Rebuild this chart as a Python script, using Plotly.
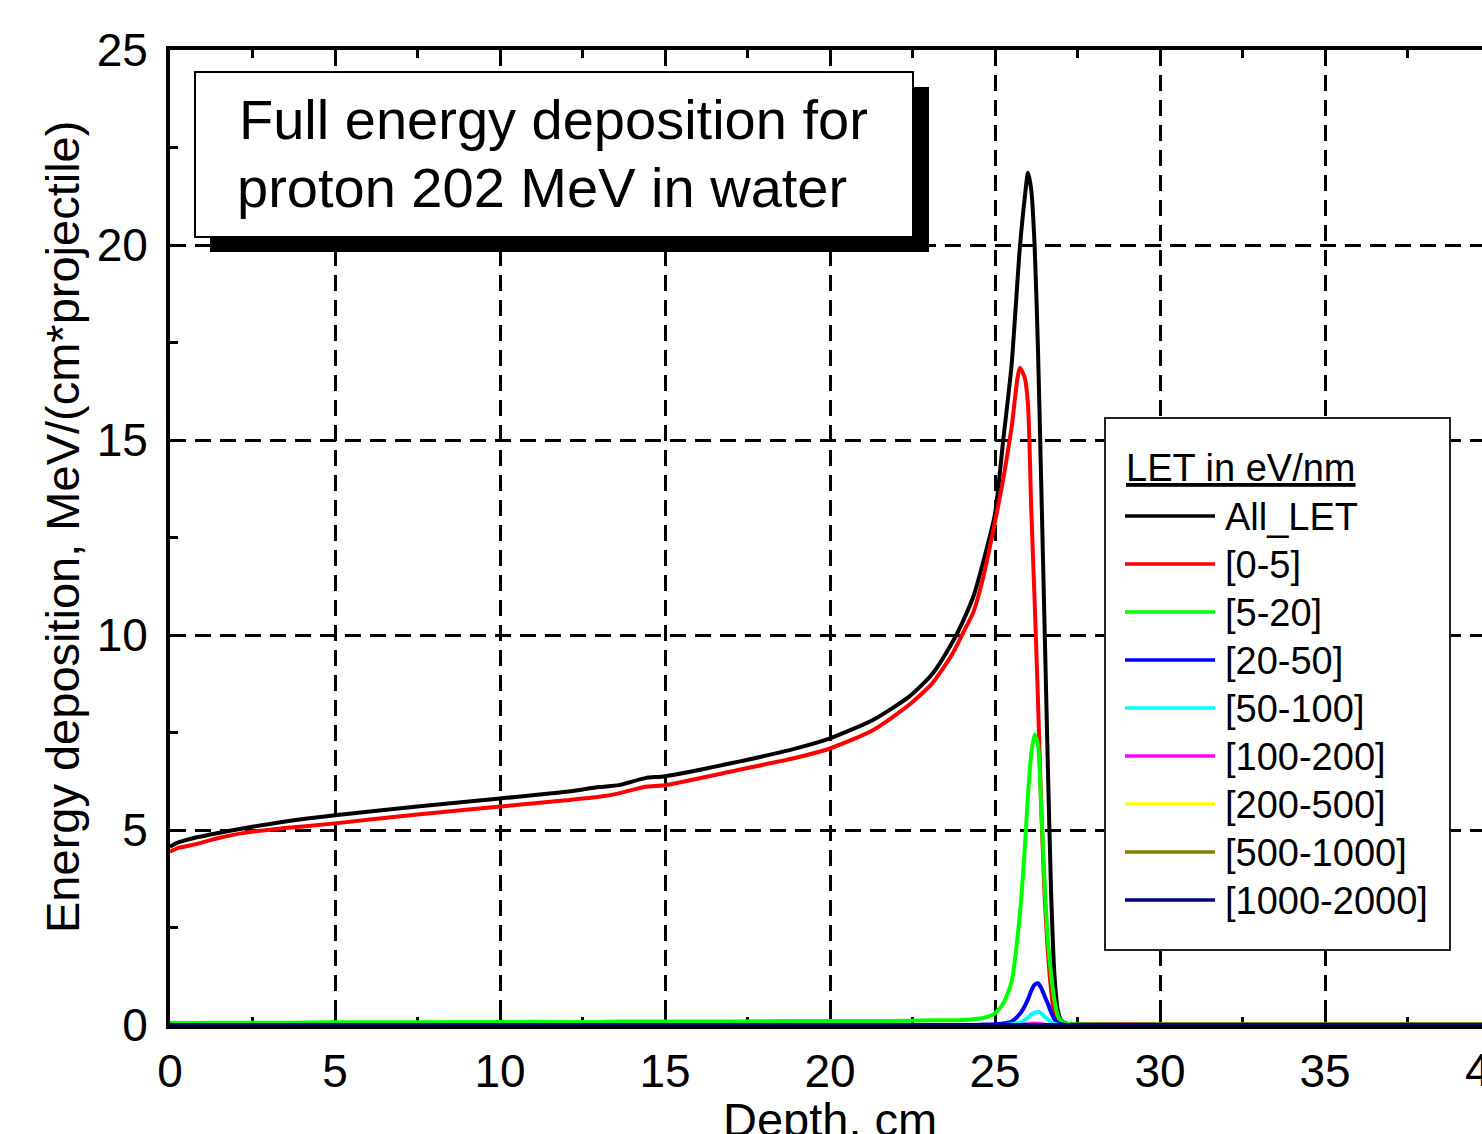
import plotly.graph_objects as go

# Depth grid (cm), denser around the Bragg peak
depth = [0, 0.25, 0.7, 1.5, 2.2, 3.5, 5, 7.5, 10, 12,
         13, 13.6, 14.4, 15, 17, 19, 20, 21.3, 22.4, 23.1,
         23.7, 24.0, 24.35, 24.65, 25.0, 25.25, 25.5, 25.75, 25.9, 26.0,
         26.1, 26.2, 26.3, 26.4, 26.5, 26.6, 26.7, 26.8, 26.9, 27.0,
         27.2, 28, 30, 35, 40]

# Energy deposition, MeV/(cm*projectile), per LET bin
all_let = [4.57, 4.68, 4.79, 4.93, 5.04, 5.22, 5.38, 5.60, 5.81, 5.98,
           6.10, 6.15, 6.33, 6.38, 6.71, 7.10, 7.35, 7.82, 8.42, 9.00,
           9.80, 10.30, 11.00, 11.90, 13.10, 15.00, 16.90, 19.90, 21.20, 21.85,
           21.40, 20.00, 17.40, 13.90, 10.30, 6.70, 3.40, 1.30, 0.40, 0.12,
           0.03, 0.01, 0.01, 0.01, 0.01]
let_0_5 = [4.44, 4.54, 4.62, 4.80, 4.92, 5.05, 5.17, 5.40, 5.60, 5.76,
           5.85, 5.94, 6.11, 6.15, 6.50, 6.86, 7.09, 7.56, 8.21, 8.76,
           9.50, 10.00, 10.60, 11.50, 12.90, 14.00, 15.30, 16.85, 16.60, 15.90,
           13.20, 10.90, 8.40, 5.60, 3.40, 1.90, 0.90, 0.25, 0.08, 0.03,
           0.02, 0.02, 0.02, 0.02, 0.02]
let_5_20 = [0.05, 0.05, 0.05, 0.06, 0.06, 0.06, 0.07, 0.07, 0.08, 0.08,
            0.08, 0.09, 0.09, 0.09, 0.09, 0.10, 0.10, 0.10, 0.11, 0.12,
            0.12, 0.13, 0.15, 0.18, 0.30, 0.55, 1.10, 2.80, 4.50, 5.90,
            6.95, 7.45, 7.20, 5.60, 3.70, 2.20, 1.30, 0.65, 0.25, 0.10,
            0.03, 0.01, 0.01, 0.01, 0.01]
let_20_50 = [0, 0, 0, 0, 0, 0, 0, 0, 0, 0,
             0, 0, 0, 0, 0, 0, 0, 0, 0, 0,
             0, 0, 0, 0.01, 0.02, 0.04, 0.09, 0.28, 0.48, 0.66,
             0.88, 1.03, 1.07, 0.95, 0.75, 0.55, 0.33, 0.15, 0.05, 0.02,
             0, 0, 0, 0, 0]
let_50_100 = [0, 0, 0, 0, 0, 0, 0, 0, 0, 0,
              0, 0, 0, 0, 0, 0, 0, 0, 0, 0,
              0, 0, 0, 0, 0, 0, 0.02, 0.06, 0.13, 0.19,
              0.27, 0.32, 0.34, 0.30, 0.22, 0.15, 0.08, 0.03, 0.01, 0,
              0, 0, 0, 0, 0]
let_100_200 = [0, 0, 0, 0, 0, 0, 0, 0, 0, 0,
               0, 0, 0, 0, 0, 0, 0, 0, 0, 0,
               0, 0, 0, 0, 0, 0, 0, 0, 0.01, 0.02,
               0.03, 0.03, 0.03, 0.02, 0.01, 0, 0, 0, 0, 0,
               0, 0, 0, 0, 0]
let_200_500 = [0, 0, 0, 0, 0, 0, 0, 0, 0, 0,
               0, 0, 0, 0, 0, 0, 0, 0, 0, 0,
               0, 0, 0, 0, 0, 0, 0, 0, 0, 0,
               0, 0, 0, 0, 0, 0, 0, 0, 0, 0,
               0, 0, 0, 0, 0]
let_500_1000 = [0, 0, 0, 0, 0, 0, 0, 0, 0, 0,
                0, 0, 0, 0, 0, 0, 0, 0, 0, 0,
                0, 0, 0, 0, 0, 0, 0, 0, 0, 0,
                0, 0, 0, 0, 0, 0, 0, 0, 0, 0,
                0, 0, 0, 0, 0]
let_1000_2000 = [0, 0, 0, 0, 0, 0, 0, 0, 0, 0,
                 0, 0, 0, 0, 0, 0, 0, 0, 0, 0,
                 0, 0, 0, 0, 0, 0, 0, 0, 0, 0,
                 0, 0, 0, 0, 0, 0, 0, 0, 0, 0,
                 0, 0, 0, 0, 0]

series_names = ["All_LET", "[0-5]", "[5-20]", "[20-50]", "[50-100]",
                "[100-200]", "[200-500]", "[500-1000]", "[1000-2000]"]
series_values = [all_let, let_0_5, let_5_20, let_20_50, let_50_100,
                 let_100_200, let_200_500, let_500_1000, let_1000_2000]
series_colors = ["#000000", "#ff0000", "#00ff00", "#0000ff", "#00ffff",
                 "#ff00ff", "#ffff00", "#808000", "#000080"]

x_ticks = [0, 5, 10, 15, 20, 25, 30, 35]
y_ticks = [0, 5, 10, 15, 20, 25]

FONT = "Liberation Sans, Arial, Helvetica, sans-serif"
W, H = 1482, 1134
L, R, T, B = 170, 0, 50, 109
PW, PH = W - L - R, H - T - B
X_MAX = PW / 33.0  # 33 px per cm


def px(xp):
    return (xp - L) / PW


def py(yp):
    return (H - B - yp) / PH


fig = go.Figure()
for name, vals, col in zip(series_names, series_values, series_colors):
    fig.add_trace(go.Scatter(x=depth, y=vals, mode="lines", name=name,
                             line=dict(color=col, width=4, shape="spline", smoothing=0.6),
                             showlegend=False))

grid_dash = "16px,9px"
tick_common = dict(ticks="inside", ticklen=15, tickwidth=3, tickcolor="black")
minor_common = dict(ticks="inside", ticklen=8, tickwidth=3, tickcolor="black",
                    dtick=2.5, tick0=0, showgrid=False)
fig.update_layout(
    width=W, height=H,
    margin=dict(l=L, r=R, t=T, b=B, pad=0),
    paper_bgcolor="white", plot_bgcolor="white",
    font=dict(family=FONT, color="black"),
    xaxis=dict(range=[0, X_MAX], tickvals=x_ticks, ticktext=[str(v) for v in x_ticks],
               minor=minor_common, **tick_common,
               showline=True, linewidth=4, linecolor="black", mirror="ticks",
               showgrid=True, gridcolor="black", gridwidth=2.5, griddash=grid_dash,
               zeroline=False, tickfont=dict(size=46), ticklabelstandoff=3,
               layer="below traces"),
    yaxis=dict(range=[0, 25], tickvals=y_ticks,
               minor=minor_common, **tick_common,
               showline=True, linewidth=4, linecolor="black", mirror=False,
               showgrid=True, gridcolor="black", gridwidth=2.5, griddash=grid_dash,
               zeroline=False, tickfont=dict(size=46), ticklabelstandoff=9),
    yaxis2=dict(range=[0, 25], overlaying="y", side="right", anchor="x",
                tickvals=y_ticks, showticklabels=False,
                minor=minor_common, **tick_common,
                showline=False, showgrid=False, zeroline=False),
)

shapes = []
annotations = []

# Axis titles
annotations.append(dict(xref="paper", yref="paper", x=px(62), y=py(527),
                        text="Energy deposition, MeV/(cm*projectile)", textangle=-90,
                        showarrow=False, xanchor="center", yanchor="middle",
                        font=dict(size=47, family=FONT, color="black")))
annotations.append(dict(xref="paper", yref="paper", x=px(830), y=py(1119),
                        text="Depth, cm", showarrow=False,
                        xanchor="center", yanchor="middle",
                        font=dict(size=47, family=FONT, color="black")))
# last x tick label sits just past the visible edge
annotations.append(dict(xref="paper", yref="paper", x=px(1490), y=py(1070),
                        text="40", showarrow=False, xanchor="center", yanchor="middle",
                        font=dict(size=46, family=FONT, color="black")))

# Title box with drop shadow
shapes.append(dict(type="rect", xref="paper", yref="paper", layer="above",
                   x0=px(210), x1=px(929), y0=py(252), y1=py(87),
                   fillcolor="black", line=dict(width=0)))
shapes.append(dict(type="rect", xref="paper", yref="paper", layer="above",
                   x0=px(195), x1=px(913), y0=py(237), y1=py(72),
                   fillcolor="white", line=dict(color="black", width=2)))
annotations.append(dict(xref="paper", yref="paper", x=px(237), y=py(120),
                        text="Full energy deposition for", showarrow=False,
                        xanchor="left", yanchor="middle",
                        font=dict(size=56, family=FONT, color="black")))
annotations.append(dict(xref="paper", yref="paper", x=px(235), y=py(187),
                        text="proton 202 MeV in water", showarrow=False,
                        xanchor="left", yanchor="middle",
                        font=dict(size=56, family=FONT, color="black")))

# Legend panel
shapes.append(dict(type="rect", xref="paper", yref="paper", layer="above",
                   x0=px(1105), x1=px(1450), y0=py(950), y1=py(418),
                   fillcolor="white", line=dict(color="#222222", width=2)))
annotations.append(dict(xref="paper", yref="paper", x=px(1124), y=py(468),
                        text="<u>LET in eV/nm</u>", showarrow=False,
                        xanchor="left", yanchor="middle",
                        font=dict(size=38, family=FONT, color="black")))
row0, row_step = 516, 48
for i, (name, col) in enumerate(zip(series_names, series_colors)):
    yr = row0 + i * row_step
    shapes.append(dict(type="line", xref="paper", yref="paper", layer="above",
                       x0=px(1125), x1=px(1215), y0=py(yr), y1=py(yr),
                       line=dict(color=col, width=3.5)))
    annotations.append(dict(xref="paper", yref="paper", x=px(1223), y=py(yr + 1),
                            text=name, showarrow=False,
                            xanchor="left", yanchor="middle",
                            font=dict(size=38, family=FONT, color="black")))

fig.update_layout(shapes=shapes, annotations=annotations)
fig.write_html("out.html")
